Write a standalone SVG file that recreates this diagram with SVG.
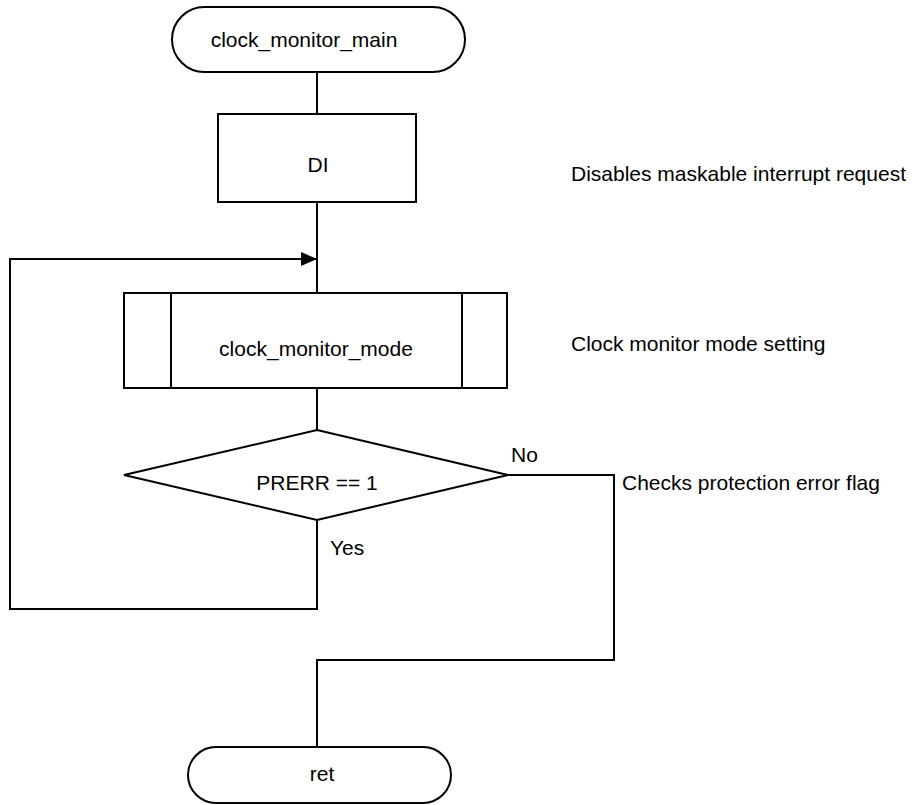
<svg xmlns="http://www.w3.org/2000/svg" width="916" height="805" viewBox="0 0 916 805">
  <style>
    .shape { fill: #ffffff; stroke: #000000; stroke-width: 2; }
    .line { fill: none; stroke: #000000; stroke-width: 2; }
    .label { font-family: "Liberation Sans", Arial, sans-serif; font-size: 21px; fill: #000000; }
    .mid { text-anchor: middle; }
  </style>
  <defs>
    <marker id="arrow" markerWidth="16" markerHeight="14" refX="15" refY="7" orient="auto" markerUnits="userSpaceOnUse">
      <path d="M0,0 L16,7 L0,14 Z" fill="#000000"/>
    </marker>
  </defs>

  <g id="connectors">
    <line class="line" x1="317" y1="72" x2="317" y2="114"/>
    <line class="line" x1="317" y1="202" x2="317" y2="293"/>
    <line class="line" x1="317" y1="388" x2="317" y2="430"/>
    <!-- Yes branch: loops back above the mode setting -->
    <polyline class="line" points="317,520 317,609 10,609 10,259 316,259" marker-end="url(#arrow)"/>
    <!-- No branch: leads to return -->
    <polyline class="line" points="508,475 614,475 614,660 317,660 317,747"/>
  </g>

  <g id="start">
    <rect class="shape" x="172" y="7" width="293" height="65" rx="32.5" ry="32.5"/>
    <text class="label mid" x="304" y="47">clock_monitor_main</text>
  </g>

  <g id="di">
    <rect class="shape" x="218" y="114" width="198" height="88"/>
    <text class="label mid" x="318" y="172">DI</text>
  </g>

  <g id="mode">
    <rect class="shape" x="124" y="293" width="383" height="95"/>
    <line class="line" x1="171" y1="293" x2="171" y2="388"/>
    <line class="line" x1="462" y1="293" x2="462" y2="388"/>
    <text class="label mid" x="316" y="356">clock_monitor_mode</text>
  </g>

  <g id="check">
    <polygon class="shape" points="317,430 508,475 317,520 124,475"/>
    <text class="label mid" x="317" y="490">PRERR == 1</text>
  </g>

  <g id="end">
    <rect class="shape" x="188" y="747" width="263" height="56" rx="28" ry="28"/>
    <text class="label mid" x="322" y="781">ret</text>
  </g>

  <g id="notes">
    <text class="label" x="511" y="462">No</text>
    <text class="label" x="330" y="555">Yes</text>
    <text class="label" x="571" y="181">Disables maskable interrupt request</text>
    <text class="label" x="571" y="351">Clock monitor mode setting</text>
    <text class="label" x="622" y="490">Checks protection error flag</text>
  </g>
</svg>
